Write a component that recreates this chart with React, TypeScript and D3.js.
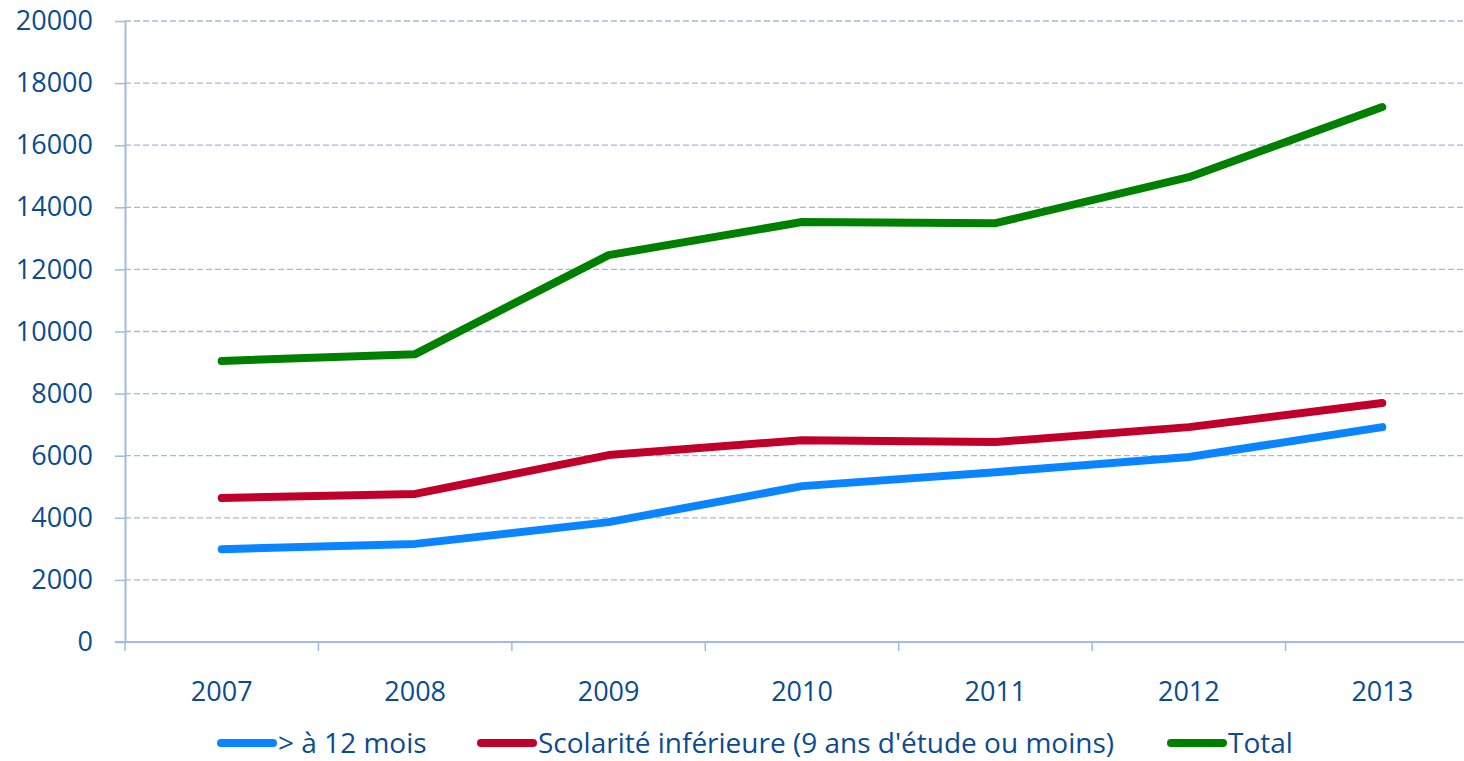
import * as d3 from 'd3';
import { useEffect, useRef } from 'react';

const years = ['2007', '2008', '2009', '2010', '2011', '2012', '2013'];
const plus12Mois = [2990, 3160, 3860, 5020, 5470, 5960, 6920];
const scolarite = [4640, 4770, 6020, 6500, 6440, 6920, 7700];
const total = [9050, 9270, 12460, 13525, 13490, 14970, 17230];
const yTicks = [0, 2000, 4000, 6000, 8000, 10000, 12000, 14000, 16000, 18000, 20000];

const seriesNames = ['> à 12 mois', "Scolarité inférieure (9 ans d'étude ou moins)", 'Total'];
const seriesColors = ['#0a84ff', '#c0002a', '#008000'];

export default function App() {
  const ref = useRef<SVGSVGElement>(null);

  const width = 1464;
  const height = 761;
  const margin = { top: 21, left: 125, bottom: 119 };
  const plotRight = 1479; // plot runs past the picture's right edge
  const textColor = '#0b4b8f';
  const gridColor = '#9fbbe0';
  const font = '"Open Sans", sans-serif';

  useEffect(() => {
    const svg = d3.select(ref.current);
    svg.selectAll('*').remove();

    const x = d3.scaleBand().domain(years).range([margin.left, plotRight]);
    const y = d3
      .scaleLinear()
      .domain([0, 20000])
      .range([height - margin.bottom, margin.top]);

    // dashed gridlines
    svg
      .append('g')
      .selectAll('line')
      .data(yTicks.filter((t) => t > 0))
      .enter()
      .append('line')
      .attr('x1', margin.left)
      .attr('x2', width)
      .attr('y1', (d) => y(d))
      .attr('y2', (d) => y(d))
      .attr('stroke', gridColor)
      .attr('stroke-width', 1.3)
      .attr('stroke-dasharray', '6 3');

    // y axis
    const yAxis = d3
      .axisLeft(y)
      .tickValues(yTicks)
      .tickSize(10)
      .tickSizeOuter(0)
      .tickPadding(22)
      .tickFormat((d) => String(d));
    const gy = svg
      .append('g')
      .attr('transform', `translate(${margin.left},0)`)
      .call(yAxis);
    gy.select('.domain').attr('stroke', gridColor).attr('stroke-width', 2);
    gy.selectAll('.tick line').attr('stroke', gridColor).attr('stroke-width', 1.5);
    gy.selectAll('.tick text')
      .attr('fill', textColor)
      .style('font-family', font)
      .style('font-size', '27px');

    // x axis
    const xAxis = d3.axisBottom(x).tickSize(0).tickPadding(40);
    const gx = svg
      .append('g')
      .attr('transform', `translate(0,${y(0)})`)
      .call(xAxis);
    gx.select('.domain').remove();
    gx.append('line')
      .attr('x1', margin.left - 10)
      .attr('x2', width)
      .attr('stroke', gridColor)
      .attr('stroke-width', 2);
    gx.selectAll('line.sep')
      .data(d3.range(years.length + 1))
      .enter()
      .append('line')
      .attr('class', 'sep')
      .attr('x1', (i) => margin.left + i * x.step())
      .attr('x2', (i) => margin.left + i * x.step())
      .attr('y1', 0)
      .attr('y2', 9)
      .attr('stroke', gridColor)
      .attr('stroke-width', 1.5);
    gx.selectAll('.tick text')
      .attr('fill', textColor)
      .style('font-family', font)
      .style('font-size', '27px');

    // lines
    const line = d3
      .line<number>()
      .x((d, i) => (x(years[i]) as number) + x.bandwidth() / 2)
      .y((d) => y(d));

    [plus12Mois, scolarite, total].forEach((values, k) => {
      svg
        .append('path')
        .datum(values)
        .attr('d', line)
        .attr('fill', 'none')
        .attr('stroke', seriesColors[k])
        .attr('stroke-width', 8)
        .attr('stroke-linecap', 'round')
        .attr('stroke-linejoin', 'round');
    });

    // legend
    const legendX = [217, 477, 1167];
    const legendY = 743;
    const legend = svg
      .append('g')
      .selectAll('g')
      .data(seriesNames)
      .enter()
      .append('g')
      .attr('transform', (d, i) => `translate(${legendX[i]},${legendY})`);
    legend
      .append('line')
      .attr('x1', 4)
      .attr('x2', 56)
      .attr('stroke', (d, i) => seriesColors[i])
      .attr('stroke-width', 8)
      .attr('stroke-linecap', 'round');
    legend
      .append('text')
      .attr('x', 61)
      .attr('dy', '0.35em')
      .attr('fill', textColor)
      .style('font-family', font)
      .style('font-size', '28px')
      .text((d) => d);
  }, []);

  return (
    <svg
      ref={ref}
      width={width}
      height={height}
      style={{ position: 'absolute', left: 0, top: 0, background: '#fff' }}
    />
  );
}
